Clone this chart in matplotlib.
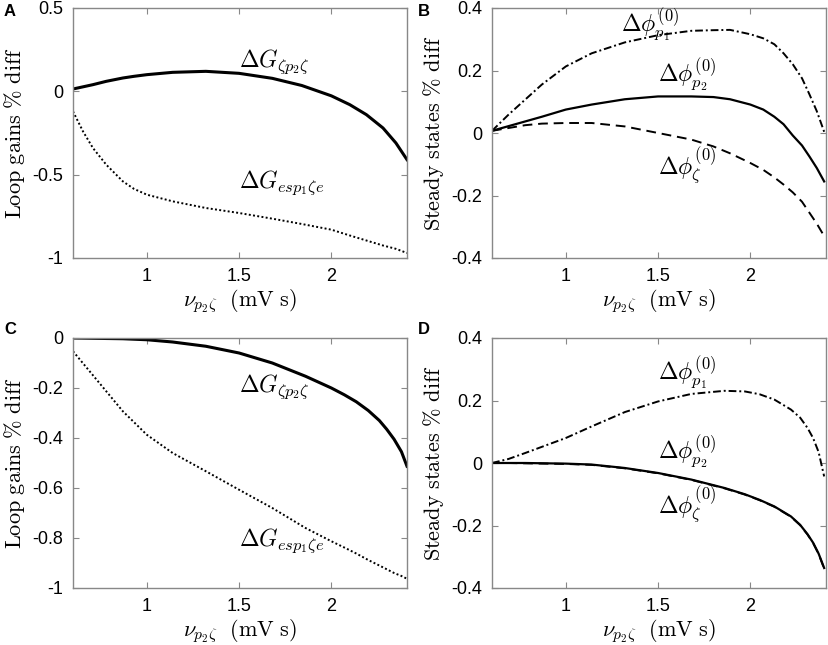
import matplotlib
matplotlib.use('Agg')
import matplotlib.pyplot as plt

plt.rcParams['mathtext.fontset'] = 'cm'
plt.rcParams['font.family'] = ['Liberation Sans', 'DejaVu Sans']

# panel A: loop gains % diff
xa = [0.60, 0.654, 0.708, 0.78, 0.87, 0.93, 1.00, 1.14, 1.32, 1.50, 1.68, 1.84, 2.00, 2.10, 2.19, 2.28, 2.35, 2.41]
a_zeta = [0.014, 0.027, 0.04, 0.06, 0.08, 0.09, 0.10, 0.114, 0.12, 0.108, 0.078, 0.035, -0.027, -0.08, -0.14, -0.22, -0.31, -0.41]
a_esp = [-0.12, -0.24, -0.34, -0.44, -0.54, -0.585, -0.62, -0.66, -0.70, -0.73, -0.764, -0.796, -0.83, -0.865, -0.895, -0.925, -0.945, -0.97]

# panel B: steady states % diff
xb = [0.60, 0.69, 0.78, 0.87, 1.00, 1.14, 1.32, 1.50, 1.68, 1.80, 1.89, 2.00, 2.07, 2.13, 2.18, 2.23, 2.28, 2.32, 2.36, 2.40]
b_p1 = [0.007, 0.059, 0.107, 0.155, 0.213, 0.255, 0.29, 0.313, 0.327, 0.329, 0.33, 0.316, 0.303, 0.284, 0.255, 0.22, 0.175, 0.124, 0.07, 0.004]
b_p2 = [0.007, 0.022, 0.037, 0.052, 0.075, 0.091, 0.108, 0.117, 0.117, 0.115, 0.108, 0.091, 0.075, 0.052, 0.028, -0.008, -0.04, -0.075, -0.112, -0.155]
b_zeta = [0.007, 0.016, 0.025, 0.03, 0.032, 0.032, 0.021, 0.0, -0.021, -0.043, -0.065, -0.096, -0.118, -0.142, -0.165, -0.19, -0.22, -0.255, -0.29, -0.33]

# panel C: loop gains % diff
xc = [0.60, 0.69, 0.78, 0.87, 1.00, 1.14, 1.32, 1.50, 1.68, 1.86, 2.00, 2.07, 2.135, 2.20, 2.26, 2.30, 2.34, 2.38, 2.41]
c_zeta = [0.0, -0.001, -0.002, -0.003, -0.007, -0.016, -0.033, -0.06, -0.10, -0.153, -0.20, -0.227, -0.255, -0.29, -0.33, -0.365, -0.405, -0.455, -0.513]
c_esp = [-0.053, -0.133, -0.213, -0.293, -0.387, -0.46, -0.533, -0.607, -0.68, -0.76, -0.813, -0.838, -0.862, -0.888, -0.91, -0.925, -0.94, -0.952, -0.963]

# panel D: steady states % diff
xd = [0.60, 0.69, 0.78, 1.00, 1.14, 1.32, 1.50, 1.68, 1.86, 1.97, 2.05, 2.13, 2.22, 2.27, 2.31, 2.34, 2.37, 2.40]
d_p1 = [0.0, 0.013, 0.032, 0.08, 0.117, 0.163, 0.197, 0.221, 0.231, 0.229, 0.22, 0.203, 0.171, 0.145, 0.112, 0.08, 0.035, -0.043]
d_p2 = [0.0, 0.0, 0.0, -0.002, -0.005, -0.016, -0.032, -0.053, -0.08, -0.10, -0.118, -0.139, -0.171, -0.198, -0.228, -0.255, -0.29, -0.336]
d_zeta = [0.0, 0.0, -0.001, -0.003, -0.006, -0.017, -0.033, -0.054, -0.081, -0.101, -0.119, -0.140, -0.172, -0.199, -0.229, -0.256, -0.291, -0.338]

xlabel = r'$\nu_{p_2\zeta}\ \ \mathrm{(mV\ s)}$'
lab_gz = r'$\Delta G_{\zeta p_2\zeta}$'
lab_ge = r'$\Delta G_{esp_1\zeta e}$'
lab_p1 = r'$\Delta \phi^{(0)}_{p_1}$'
lab_p2 = r'$\Delta \phi^{(0)}_{p_2}$'
lab_z = r'$\Delta \phi^{(0)}_{\zeta}$'

fig = plt.figure(figsize=(8.29, 6.45), dpi=100)
W, H = 829, 645
def box(l, t, r, b):
    return [l / W, 1 - b / H, (r - l) / W, (b - t) / H]

axA = fig.add_axes(box(73, 8, 407, 258))
axB = fig.add_axes(box(492, 8, 826, 258))
axC = fig.add_axes(box(73, 338, 407, 588))
axD = fig.add_axes(box(492, 338, 826, 588))

dotted = (0, (1, 1.2))
dashdot = (0, (4, 1.5, 1, 1.5))
dashed = (0, (5, 3))

axA.plot(xa, a_zeta, color='black', lw=2.2)
axA.plot(xa, a_esp, color='black', lw=1.4, linestyle=dotted)
axA.set_ylim(-1, 0.5)
axA.set_yticks([-1, -0.5, 0, 0.5])
axA.set_yticklabels(['-1', '-0.5', '0', '0.5'])
axA.text(1.5, 0.18, lab_gz, fontsize=17, va='center')
axA.text(1.5, -0.55, lab_ge, fontsize=17, va='center')
axA.set_ylabel(r'$\mathrm{Loop\ gains\ \%\ diff}$', fontsize=16)

axB.plot(xb, b_p1, color='black', lw=1.4, linestyle=dashdot)
axB.plot(xb, b_p2, color='black', lw=1.6)
axB.plot(xb, b_zeta, color='black', lw=1.4, linestyle=dashed)
axB.set_ylim(-0.4, 0.4)
axB.set_yticks([-0.4, -0.2, 0, 0.2, 0.4])
axB.set_yticklabels(['-0.4', '-0.2', '0', '0.2', '0.4'])
axB.text(1.3, 0.347, lab_p1, fontsize=17, va='center')
axB.text(1.5, 0.187, lab_p2, fontsize=17, va='center')
axB.text(1.5, -0.105, lab_z, fontsize=17, va='center')
axB.set_ylabel(r'$\mathrm{Steady\ states\ \%\ diff}$', fontsize=16)

axC.plot(xc, c_zeta, color='black', lw=2.2)
axC.plot(xc, c_esp, color='black', lw=1.4, linestyle=dotted)
axC.set_ylim(-1, 0)
axC.set_yticks([-1, -0.8, -0.6, -0.4, -0.2, 0])
axC.set_yticklabels(['-1', '-0.8', '-0.6', '-0.4', '-0.2', '0'])
axC.text(1.5, -0.194, lab_gz, fontsize=17, va='center')
axC.text(1.5, -0.81, lab_ge, fontsize=17, va='center')
axC.set_ylabel(r'$\mathrm{Loop\ gains\ \%\ diff}$', fontsize=16)

axD.plot(xd, d_p1, color='black', lw=1.4, linestyle=dashdot)
axD.plot(xd, d_p2, color='black', lw=1.6)
axD.plot(xd, d_zeta, color='black', lw=1.4, linestyle=dashed)
axD.set_ylim(-0.4, 0.4)
axD.set_yticks([-0.4, -0.2, 0, 0.2, 0.4])
axD.set_yticklabels(['-0.4', '-0.2', '0', '0.2', '0.4'])
axD.text(1.5, 0.29, lab_p1, fontsize=17, va='center')
axD.text(1.5, 0.035, lab_p2, fontsize=17, va='center')
axD.text(1.5, -0.135, lab_z, fontsize=17, va='center')
axD.set_ylabel(r'$\mathrm{Steady\ states\ \%\ diff}$', fontsize=16)

for ax in [axA, axB, axC, axD]:
    ax.set_xlim(0.6, 2.41)
    ax.set_xticks([1, 1.5, 2])
    ax.set_xticklabels(['1', '1.5', '2'])
    ax.set_xlabel(xlabel, fontsize=16, labelpad=2)
    ax.tick_params(direction='in', top=True, right=True, length=4, width=0.8,
                   color='#888888', labelsize=13, pad=7)
    for sp in ax.spines.values():
        sp.set_color('#888888')
        sp.set_linewidth(1.0)
    ax.yaxis.labelpad = 4

for lbl, (px, py) in zip('ABCD', [(4, 4), (418, 4), (4, 322), (418, 322)]):
    fig.text(px / W, 1 - py / H, lbl, fontsize=12, fontweight='bold', va='top', ha='left')

fig.savefig('out.png', dpi=100)
